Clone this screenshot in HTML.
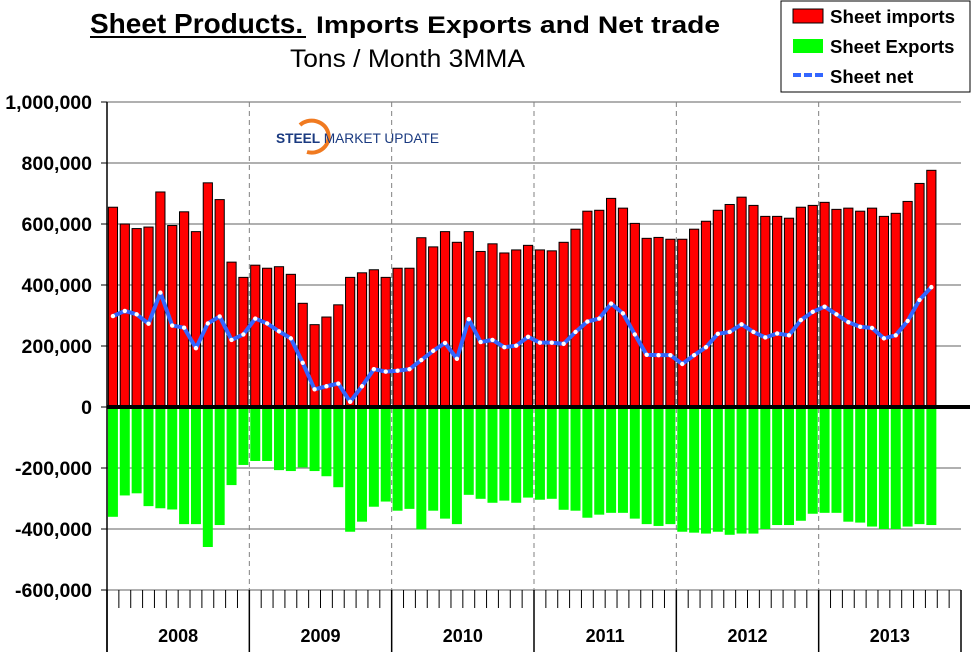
<!DOCTYPE html>
<html><head><meta charset="utf-8"><style>
body{margin:0;background:#fff;}
svg text{font-family:"Liberation Sans",Arial,sans-serif;}
</style></head><body>
<svg id="chart" width="973" height="652" xmlns="http://www.w3.org/2000/svg">
<text x="90" y="33" font-size="28" font-weight="bold">Sheet Products.</text>
<line x1="90" y1="37" x2="306" y2="37" stroke="#000" stroke-width="2"/>
<text x="316" y="33" font-size="24" font-weight="bold" textLength="404" lengthAdjust="spacingAndGlyphs">Imports Exports and Net trade</text>
<text x="290" y="67" font-size="25" textLength="235" lengthAdjust="spacingAndGlyphs">Tons / Month 3MMA</text>
<g>
<rect x="781" y="1" width="189" height="91" fill="#fff" stroke="#000" stroke-width="1"/>
<rect x="793" y="9" width="30" height="14" fill="#f00" stroke="#000"/>
<text x="830" y="23" font-size="18.5" font-weight="bold" textLength="125" lengthAdjust="spacingAndGlyphs">Sheet imports</text>
<rect x="793" y="39" width="30" height="14" fill="#0f0"/>
<text x="830" y="53" font-size="18.5" font-weight="bold">Sheet Exports</text>
<line x1="793" y1="75" x2="823" y2="75" stroke="#3366ff" stroke-width="4" stroke-dasharray="8,3"/>
<text x="830" y="83" font-size="18.5" font-weight="bold">Sheet net</text>
</g>
<g>
<path d="M300,125 A17,16 0 1 1 307,152" fill="none" stroke="#f07a20" stroke-width="4"/>
<text x="276" y="143" font-size="14" font-weight="bold" fill="#1a3a80" textLength="163" lengthAdjust="spacingAndGlyphs">STEEL <tspan font-weight="normal">MARKET UPDATE</tspan></text>
</g>
<g id="grid"></g><g id="bars"></g><g id="line"></g><g id="axes"></g>
</svg>
<script>
const years=['2008','2009','2010','2011','2012','2013'];
const yTicks=[1000000,800000,600000,400000,200000,0,-200000,-400000,-600000];
const imports=[655,600,585,590,705,595,640,575,735,680,475,425,
465,455,460,435,340,270,295,335,425,440,450,425,
455,455,555,525,575,540,575,510,535,505,515,530,
515,512,540,583,642,645,684,652,602,553,556,550,
550,583,609,645,664,688,661,625,625,619,655,661,
671,648,652,642,652,625,635,674,733,776];
const exportsV=[-360,-290,-283,-325,-332,-336,-384,-384,-459,-387,-256,-190,
-177,-177,-207,-210,-198,-210,-227,-263,-409,-376,-327,-310,
-340,-334,-401,-340,-366,-384,-288,-301,-314,-307,-314,-297,
-304,-301,-337,-340,-363,-353,-347,-347,-366,-384,-390,-384,
-409,-412,-415,-409,-419,-415,-415,-400,-387,-387,-373,-350,
-347,-347,-376,-379,-392,-400,-400,-392,-384,-387];
const net=[298,315,304,273,375,267,260,193,274,297,220,238,
290,274,248,225,145,58,68,77,17,68,124,116,
119,124,154,184,210,158,288,213,220,196,201,230,
211,211,207,246,280,290,339,307,238,171,170,170,
141,170,196,240,246,271,246,228,241,235,285,312,
329,304,278,263,259,225,235,282,351,393];
const NS='http://www.w3.org/2000/svg';
const X0=107,X1=961,NM=72,W=(X1-X0)/NM;
const Y=v=>407-v/1000000*305;
const Xc=i=>X0+(i+0.5)*W;
function mk(t,a,p){const e=document.createElementNS(NS,t);for(const k in a)e.setAttribute(k,a[k]);document.getElementById(p).appendChild(e);return e;}
yTicks.forEach(v=>{
 const g=mk('line',{x1:X0,x2:X1,y1:Y(v),y2:Y(v),stroke:'#808080','stroke-width':1.3},'grid');
 
 
 mk('line',{x1:X0-6,x2:X0,y1:Y(v),y2:Y(v),stroke:'#000'},'axes');
 const t=mk('text',{x:X0-15,y:Y(v)+7,'text-anchor':'end','font-size':19.5,'font-weight':'bold'},'axes');
 t.textContent=v.toLocaleString('en-US');
 
 
});
years.forEach((y,k)=>{
 const x=X0+k*12*W;
 if(k>0){const d=mk('line',{x1:x,x2:x,y1:102,y2:590,stroke:'#808080','stroke-dasharray':'5,4'},'grid');
 
 }
 mk('line',{x1:x,x2:x,y1:590,y2:652,stroke:'#000','stroke-width':1.5},'axes');
 for(let m=1;m<12;m++){const tx=x+m*W;mk('line',{x1:tx,x2:tx,y1:590,y2:608,stroke:'#000'},'axes');}
 const t=mk('text',{x:x+6*W,y:642,'text-anchor':'middle','font-size':18,'font-weight':'bold'},'axes');
 t.textContent=y;
 
 
});
mk('line',{x1:X1,x2:X1,y1:590,y2:652,stroke:'#000','stroke-width':1.5},'axes');
mk('line',{x1:X0,x2:X0,y1:102,y2:652,stroke:'#000','stroke-width':1.5},'axes');
imports.forEach((v,i)=>{
 const b=mk('rect',{x:Xc(i)-4.6,y:Y(v*1000),width:9.2,height:Y(0)-Y(v*1000),fill:'#f00',stroke:'#000','stroke-width':1},'bars');
 
 
});
exportsV.forEach((v,i)=>{
 const b=mk('rect',{x:Xc(i)-5,y:Y(0),width:10,height:Y(v*1000)-Y(0),fill:'#0f0'},'bars');
 
 
});
mk('line',{x1:X0,x2:970,y1:Y(0),y2:Y(0),stroke:'#000','stroke-width':4},'axes');
const pts=net.map((v,i)=>Xc(i)+','+Y(v*1000)).join(' ');
const pl=mk('polyline',{points:pts,fill:'none',stroke:'#3366ff','stroke-width':4,'stroke-linejoin':'round'},'line');


net.forEach((v,i)=>{
 const c=mk('circle',{cx:Xc(i),cy:Y(v*1000),r:2.2,fill:'#fff'},'line');
 
 
});
</script>
</body></html>
